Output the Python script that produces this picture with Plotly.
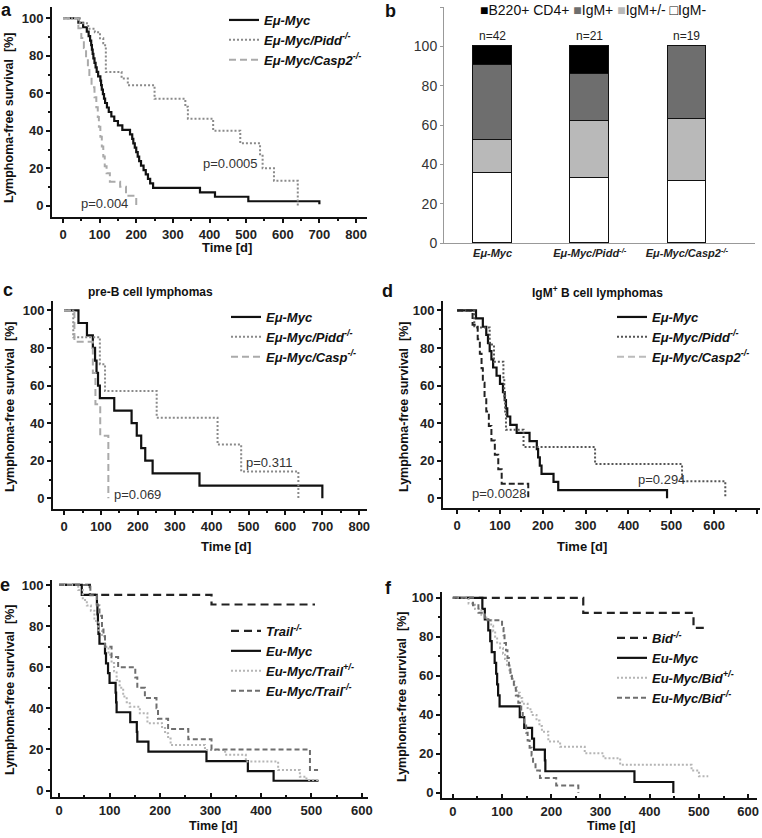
import plotly.graph_objects as go

W, H = 762, 838

# ---------------- data ----------------
# panel a
a_myc_t = [0, 42, 55, 65, 70, 74, 77, 79, 81, 83, 86, 89, 92, 96, 102, 104, 106, 109, 112, 115, 120, 125, 132, 140, 150, 162, 183, 189, 192, 196, 200, 204, 208, 213, 220, 226, 232, 238, 246, 374, 415, 506, 700]
a_myc_s = [100, 97.6, 95.2, 92.9, 90.5, 88.1, 85.7, 83.3, 81.0, 78.6, 76.2, 73.8, 71.4, 69.0, 66.7, 64.3, 61.9, 59.5, 57.1, 54.8, 52.4, 50.0, 47.6, 45.2, 42.9, 40.5, 38.1, 35.7, 33.3, 31.0, 28.6, 26.2, 23.8, 21.4, 19.0, 16.7, 14.3, 11.9, 9.5, 7.1, 4.8, 2.4, 0.8]
a_pidd_t = [0, 46, 69, 87, 101, 110, 115, 117, 160, 177, 250, 334, 341, 410, 484, 538, 545, 576, 641]
a_pidd_s = [100, 97.3, 94.4, 92.6, 89.3, 86.7, 84.8, 71.4, 67.9, 64.3, 57.1, 52.8, 46.4, 40.0, 33.3, 26.7, 20.0, 13.3, 0]
a_casp_t = [0, 42, 50, 57, 63, 68, 72, 78, 86, 91, 95, 98, 102, 106, 110, 114, 119, 128, 156, 172, 200]
a_casp_s = [100, 94.7, 89.5, 84.2, 78.9, 73.7, 68.4, 63.2, 57.9, 52.6, 47.4, 42.1, 36.8, 31.6, 26.3, 21.1, 17.3, 12.8, 10.1, 5.3, 0]

# panel b
b_groups = ["Eμ-Myc", "Eμ-Myc/Pidd<sup>-/-</sup>", "Eμ-Myc/Casp2<sup>-/-</sup>"]
b_igm_neg = [35.7, 33.3, 31.6]
b_igm_pm = [16.7, 28.6, 31.6]
b_igm_pos = [38.1, 23.8, 36.8]
b_b220 = [9.5, 14.3, 0.0]
b_n = ["n=42", "n=21", "n=19"]
b_series = ["IgM-", "IgM+/-", "IgM+", "B220+ CD4+"]

# panel c
c_myc_t = [0, 39, 62, 78, 84, 88, 92, 97, 136, 183, 197, 209, 220, 240, 367, 700]
c_myc_s = [100, 93.3, 86.7, 80.0, 73.3, 66.7, 60.0, 53.3, 46.7, 40.0, 33.3, 26.7, 20.0, 13.3, 6.7, 0]
c_pidd_t = [0, 25, 97, 111, 251, 416, 480, 635]
c_pidd_s = [100, 85.7, 71.4, 57.1, 42.9, 28.6, 14.3, 0]
c_casp_t = [0, 28, 78, 85, 98, 120]
c_casp_s = [100, 83.3, 66.7, 50.0, 33.3, 0]

# panel d
d_myc_t = [0, 44, 60, 68, 72, 76, 80, 84, 92, 100, 107, 111, 114, 117, 124, 139, 169, 186, 189, 193, 197, 225, 236, 490]
d_myc_s = [100, 95.7, 91.3, 87.0, 82.6, 78.3, 73.9, 69.6, 65.2, 60.9, 56.5, 52.2, 47.8, 43.5, 39.1, 34.8, 30.4, 26.1, 21.7, 17.4, 13.0, 8.7, 4.3, 0]
d_pidd_t = [0, 40, 76, 86, 108, 110, 112, 114, 155, 322, 525, 626]
d_pidd_s = [100, 90.9, 81.8, 72.7, 63.6, 54.5, 45.5, 36.4, 27.3, 18.2, 9.1, 0]
d_casp_t = [0, 36, 48, 53, 57, 60, 64, 68, 74, 80, 88, 96, 104, 166]
d_casp_s = [100, 92.3, 84.6, 76.9, 69.2, 61.5, 53.8, 46.2, 38.5, 30.8, 23.1, 15.4, 7.7, 0]

# panel e
e_trail_t = [0, 61, 302, 507]
e_trail_s = [100, 95.2, 90.5, 90.5]
e_myc_t = [0, 45, 75, 76, 77, 78, 80, 91, 93, 97, 100, 112, 113, 114, 141, 154, 155, 177, 292, 374, 425, 514]
e_myc_s = [100, 95.2, 90.5, 85.7, 81.0, 76.2, 71.4, 66.7, 61.9, 57.1, 52.4, 47.6, 42.9, 38.1, 33.3, 28.6, 23.8, 19.0, 14.3, 9.5, 4.8, 4.8]
e_het_t = [0, 38, 47, 55, 63, 70, 78, 85, 91, 98, 104, 109, 114, 120, 127, 134, 140, 160, 175, 204, 210, 216, 221, 289, 329, 370, 434, 477, 490, 513]
e_het_s = [100, 97.5, 92.7, 90.0, 87.5, 82.5, 78.0, 75.0, 70.0, 66.0, 62.0, 58.0, 53.8, 50.0, 45.7, 43.0, 40.8, 37.6, 32.8, 30.4, 27.9, 25.3, 22.2, 19.8, 17.4, 14.1, 10.0, 6.8, 5.2, 5.2]
e_ko_t = [0, 62, 75, 80, 85, 88, 91, 104, 117, 151, 155, 170, 193, 196, 216, 256, 302, 497, 513]
e_ko_s = [100, 95, 90, 85, 80, 75, 70, 65, 60, 55, 50, 45, 40, 35, 30, 25, 20, 10, 10]

# panel f
f_bid_t = [0, 265, 489, 519]
f_bid_s = [100, 92.3, 84.6, 84.6]
f_myc_t = [0, 60, 65, 72, 76, 79, 85, 88, 90, 92, 95, 136, 145, 161, 165, 187, 188, 369, 448]
f_myc_s = [100, 94.4, 88.9, 83.3, 77.8, 72.2, 66.7, 61.1, 55.6, 50.0, 44.4, 38.9, 33.3, 27.8, 22.2, 16.7, 11.1, 5.6, 0]
f_het_t = [0, 32, 45, 58, 68, 78, 82, 86, 90, 96, 102, 106, 110, 115, 118, 122, 125, 130, 136, 141, 152, 160, 170, 176, 181, 194, 218, 268, 306, 340, 485, 500, 519]
f_het_s = [100, 97.1, 94.3, 91.4, 88.6, 85.7, 82.9, 80.0, 77.1, 74.3, 71.4, 68.6, 65.7, 62.9, 60.0, 57.1, 54.3, 51.4, 48.6, 45.7, 42.9, 40.0, 37.1, 34.3, 31.4, 26.3, 23.7, 20.3, 17.8, 14.4, 11.5, 8.6, 8.6]
f_ko_t = [0, 41, 52, 65, 100, 103, 105, 108, 111, 114, 117, 120, 124, 128, 133, 139, 142, 145, 149, 152, 156, 160, 163, 168, 177, 210, 255]
f_ko_s = [100, 96.2, 92.3, 88.5, 84.6, 80.8, 76.9, 73.1, 69.2, 65.4, 61.5, 57.7, 53.8, 50.0, 46.2, 42.3, 38.5, 34.6, 30.8, 26.9, 23.1, 19.2, 15.4, 11.5, 7.7, 3.8, 0]

# ---------------- styling helpers ----------------
FONT = "Arial, Liberation Sans, sans-serif"
BLACK = "#111111"
B_COLORS = ["#ffffff", "#b9b9b9", "#6e6e6e", "#000000"]


def px_x(p):
    return p / W


def px_y(p):
    return 1 - p / H


def km(t, s, name, ax, leg, color, width=2.0, dash="solid", showlegend=True):
    return go.Scatter(x=t, y=s, name=name, mode="lines",
                      line=dict(shape="hv", color=color, width=width, dash=dash),
                      xaxis="x" + ax, yaxis="y" + ax, legend=leg,
                      showlegend=showlegend, hoverinfo="skip")


fig = go.Figure()

# panel a
fig.add_trace(km(a_myc_t, a_myc_s, "Eμ-Myc", "", "legend", BLACK, 2.2))
fig.add_trace(km(a_pidd_t, a_pidd_s, "Eμ-Myc/Pidd<sup>-/-</sup>", "", "legend", "#8a8a8a", 2.0, "2px,2px"))
fig.add_trace(km(a_casp_t, a_casp_s, "Eμ-Myc/Casp2<sup>-/-</sup>", "", "legend", "#aaaaaa", 2.0, "7px,4px"))

# panel b (stacked bars)
b_x = list(range(len(b_groups)))
for vals, nm, col in zip([b_igm_neg, b_igm_pm, b_igm_pos, b_b220], b_series, B_COLORS):
    fig.add_trace(go.Bar(x=b_x, y=vals, name=nm, width=0.4, xaxis="x2", yaxis="y2",
                         showlegend=False, marker=dict(color=col, line=dict(color="#111", width=1)),
                         hoverinfo="skip"))

# panel c
fig.add_trace(km(c_myc_t, c_myc_s, "Eμ-Myc", "3", "legend3", BLACK, 2.2))
fig.add_trace(km(c_pidd_t, c_pidd_s, "Eμ-Myc/Pidd<sup>-/-</sup>", "3", "legend3", "#8a8a8a", 2.0, "2px,2px"))
fig.add_trace(km(c_casp_t, c_casp_s, "Eμ-Myc/Casp<sup>-/-</sup>", "3", "legend3", "#aaaaaa", 2.0, "7px,4px"))

# panel d
fig.add_trace(km(d_myc_t, d_myc_s, "Eμ-Myc", "4", "legend4", BLACK, 2.2))
fig.add_trace(km(d_pidd_t, d_pidd_s, "Eμ-Myc/Pidd<sup>-/-</sup>", "4", "legend4", "#555555", 2.0, "2px,2px"))
fig.add_trace(km(d_casp_t, d_casp_s, "Eμ-Myc/Casp2<sup>-/-</sup>", "4", "legend4", "#222222", 2.0, "6px,3px", showlegend=False))
fig.add_trace(km([None], [None], "Eμ-Myc/Casp2<sup>-/-</sup>", "4", "legend4", "#bbbbbb", 2.0, "7px,4px"))

# panel e
fig.add_trace(km(e_trail_t, e_trail_s, "Trail<sup>-/-</sup>", "5", "legend5", "#222222", 2.2, "8px,5px"))
fig.add_trace(km(e_myc_t, e_myc_s, "Eu-Myc", "5", "legend5", BLACK, 2.2))
fig.add_trace(km(e_het_t, e_het_s, "Eu-Myc/Trail<sup>+/-</sup>", "5", "legend5", "#b5b5b5", 2.0, "2px,2px"))
fig.add_trace(km(e_ko_t, e_ko_s, "Eu-Myc/Trail<sup>-/-</sup>", "5", "legend5", "#6e6e6e", 2.0, "5px,3px"))

# panel f
fig.add_trace(km(f_bid_t, f_bid_s, "Bid<sup>-/-</sup>", "6", "legend6", "#222222", 2.2, "8px,5px"))
fig.add_trace(km(f_myc_t, f_myc_s, "Eu-Myc", "6", "legend6", BLACK, 2.2))
fig.add_trace(km(f_het_t, f_het_s, "Eu-Myc/Bid<sup>+/-</sup>", "6", "legend6", "#b5b5b5", 2.0, "2px,2px"))
fig.add_trace(km(f_ko_t, f_ko_s, "Eu-Myc/Bid<sup>-/-</sup>", "6", "legend6", "#6e6e6e", 2.0, "5px,3px"))

# ---------------- axes ----------------
tickfont = dict(family=FONT, size=13, color="#222", weight="bold")


def km_x(dom, rng, dtick, minor, anchor, ticks="outside"):
    return dict(domain=[px_x(dom[0]), px_x(dom[1])], range=rng, dtick=dtick, tick0=0, anchor=anchor,
                showline=True, linecolor=BLACK, linewidth=1.8, ticks=ticks, ticklen=4,
                tickwidth=1.5, tickcolor=BLACK, showgrid=False, zeroline=False, tickfont=tickfont,
                minor=dict(ticks=ticks, ticklen=2, tickcolor=BLACK, dtick=minor, tick0=0),
                automargin=False, fixedrange=True)


def km_y(dom, rng, anchor):
    return dict(domain=[px_y(dom[1]), px_y(dom[0])], range=rng, dtick=20, tick0=0, anchor=anchor,
                showline=True, linecolor=BLACK, linewidth=1.8, ticks="outside", ticklen=4,
                tickwidth=1.5, tickcolor=BLACK, showgrid=False, zeroline=False, tickfont=tickfont,
                minor=dict(ticks="outside", ticklen=2, tickcolor=BLACK, dtick=10, tick0=0),
                automargin=False, fixedrange=True)


layout = dict(
    width=W, height=H, margin=dict(l=0, r=0, t=0, b=0, autoexpand=False),
    paper_bgcolor="white", plot_bgcolor="white", barmode="stack", bargap=0,
    xaxis=km_x((52, 367), [-30, 830], 100, 50, "y"),
    yaxis=km_y((7, 217), [-6, 106], "x"),
    xaxis3=km_x((53, 367), [-30, 821], 100, 50, "y3"),
    yaxis3=km_y((301, 509), [-5.7, 105], "x3"),
    xaxis4=km_x((443, 760), [-33, 707], 100, 50, "y4"),
    yaxis4=km_y((301, 508), [-5.2, 105], "x4"),
    xaxis5=km_x((52, 368), [-14, 612], 100, 50, "y5", "inside"),
    yaxis5=km_y((580, 797), [-3.1, 102.4], "x5"),
    xaxis6=km_x((442, 757), [-22, 618], 100, 50, "y6", "inside"),
    yaxis6=km_y((592, 798), [-2.6, 103], "x6"),
    xaxis2=dict(domain=[px_x(444), px_x(755)], range=[-0.5, 2.7], anchor="y2",
                tickvals=b_x, ticktext=["<b><i>%s</i></b>" % g for g in b_groups],
                tickfont=dict(family=FONT, size=11, color="#222"), showline=True,
                linecolor="#999", linewidth=1, ticks="", showgrid=False, zeroline=False,
                automargin=False, fixedrange=True),
    yaxis2=dict(domain=[px_y(243), px_y(7)], range=[0, 120], dtick=20, anchor="x2",
                tickfont=dict(family=FONT, size=14, color="#333"), showline=True,
                linecolor="#999", linewidth=1, ticks="outside", ticklen=3, tickcolor="#999",
                showgrid=False, zeroline=False, automargin=False, fixedrange=True),
)

legfont = dict(family=FONT, size=13, color="#111", weight="bold", style="italic")


def leg(px0, pytop):
    return dict(x=px_x(px0), y=px_y(pytop), xanchor="left", yanchor="top", font=legfont,
                bgcolor="rgba(0,0,0,0)", itemwidth=30, tracegroupgap=0, traceorder="normal")


layout["legend"] = leg(224, 5)
layout["legend3"] = leg(226, 302)
layout["legend4"] = leg(612, 302)
layout["legend5"] = leg(226, 616)
layout["legend6"] = leg(612, 623)

fig.update_layout(**layout)

# ---------------- annotations ----------------
ann = []


def txt(px, py, text, size=13, bold=True, italic=False, angle=0, color="#111", xanchor="center"):
    t = text
    if italic:
        t = "<i>%s</i>" % t
    if bold:
        t = "<b>%s</b>" % t
    ann.append(dict(x=px_x(px), y=px_y(py), xref="paper", yref="paper", text=t, showarrow=False,
                    textangle=angle, xanchor=xanchor, yanchor="middle",
                    font=dict(family=FONT, size=size, color=color)))


# panel letters
txt(6, 10, "a", 18)
txt(390, 11, "b", 18)
txt(8, 290, "c", 18)
txt(387, 291, "d", 18)
txt(5, 585, "e", 18)
txt(388, 588, "f", 18)

# axis titles
ytitle = "Lymphoma-free survival  [%]"
txt(9, 118, ytitle, 12.5, angle=-90)
txt(10, 407, ytitle, 12.5, angle=-90)
txt(404, 407, ytitle, 12.5, angle=-90)
txt(10, 690, ytitle, 12.5, angle=-90)
txt(402, 697, ytitle, 12.5, angle=-90)
txt(227, 248, "Time [d]", 13)
txt(226, 546, "Time [d]", 13)
txt(582, 546, "Time [d]", 13)
txt(213, 826, "Time [d]", 12.5)
txt(611, 826, "Time [d]", 12.5)

# panel titles
txt(150, 292, "pre-B cell lymphomas", 12)
txt(597, 292, "IgM<sup>+</sup> B cell lymphomas", 12)

# panel b legend (compact key as in the original figure)
key_syms = ["□"] + ["<span style='color:%s'>■</span>" % c for c in B_COLORS[1:]]
key_parts = [key_syms[i] + b_series[i] for i in range(4)][::-1]
txt(478, 10, " ".join(key_parts), 14, bold=False, xanchor="left")

# p-values (data coordinates)
for xr, yr, x, y, t in [("x", "y", 458, 22.6, "p=0.0005"), ("x", "y", 112, 1.3, "p=0.004"),
                        ("x3", "y3", 556, 19, "p=0.311"), ("x3", "y3", 199, 1.8, "p=0.069"),
                        ("x4", "y4", 477, 9.8, "p=0.294"), ("x4", "y4", 100, 2.3, "p=0.0028")]:
    ann.append(dict(x=x, y=y, xref=xr, yref=yr, text=t, showarrow=False,
                    font=dict(family=FONT, size=13, color="#333")))

# n labels above bars
for i, n in enumerate(b_n):
    ann.append(dict(x=b_x[i], y=100, xref="x2", yref="y2", text=n, showarrow=False, yanchor="bottom",
                    yshift=1, font=dict(family=FONT, size=12, color="#222")))

fig.update_layout(annotations=ann)
fig.write_html("out.html", config={"displayModeBar": False},
               post_script="document.body.style.margin='0px';")
